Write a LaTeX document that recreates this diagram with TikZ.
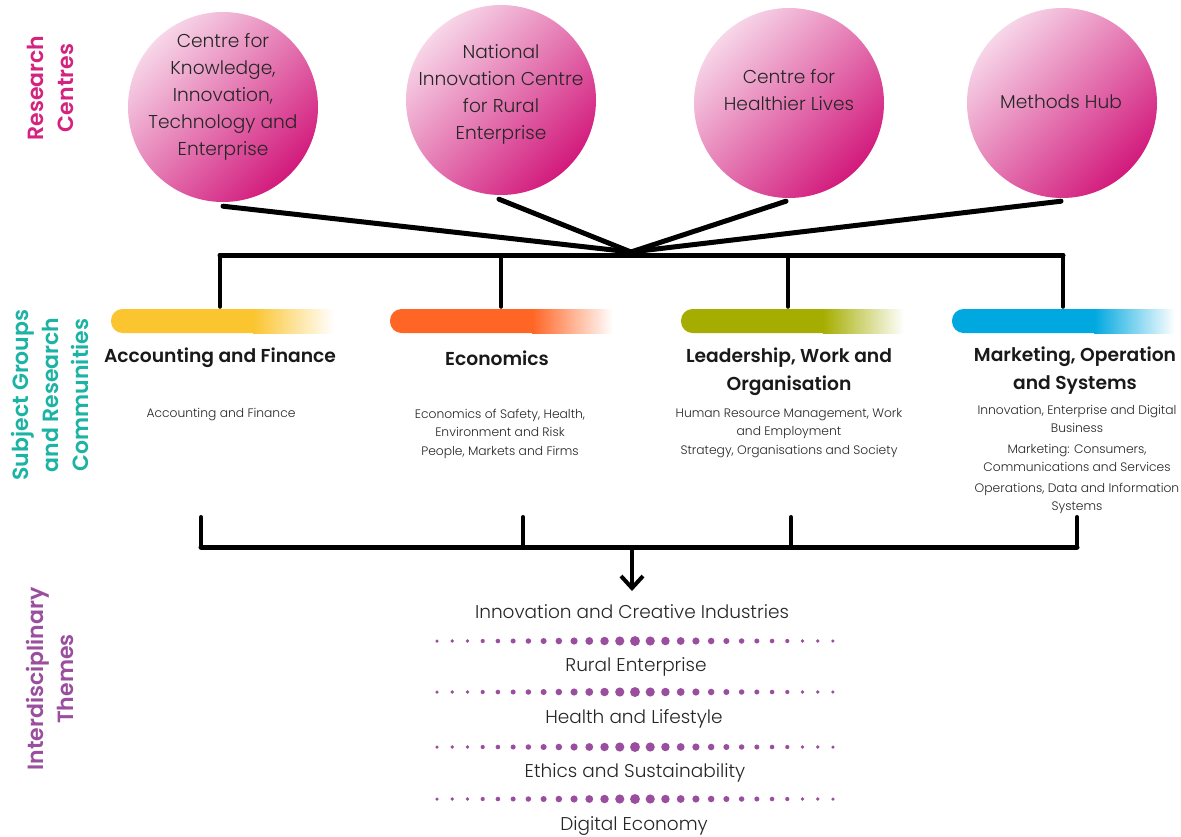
\documentclass[tikz,border=0pt]{standalone}
\usepackage{fontspec}
\setmainfont{Poppins}[UprightFont=* Light, BoldFont=* SemiBold]
\usetikzlibrary{arrows.meta}
\definecolor{rcmag}{HTML}{D4237E}
\definecolor{sgteal}{HTML}{1BB3A4}
\definecolor{itpurp}{HTML}{9A4E9E}
\definecolor{circlight}{HTML}{F7D6E8}
\definecolor{circdark}{HTML}{D21A7C}
\definecolor{barA}{HTML}{FBC530}
\definecolor{barB}{HTML}{FF6524}
\definecolor{barC}{HTML}{A5AE00}
\definecolor{barD}{HTML}{00A8E0}
\definecolor{txt}{HTML}{262626}
\tikzset{
  circ/.style={circle, minimum size=190pt, inner sep=0pt, top color=circlight, bottom color=circdark, shading angle=45},
  circtext/.style={align=center, text=txt, font=\fontsize{18.6}{27}\selectfont},
  sidelab/.style={rotate=90, align=center, font=\bfseries\fontsize{22}{30}\selectfont},
  grouptitle/.style={align=center, text=black!90, font=\bfseries\fontsize{18.7}{28}\selectfont},
  smalltext/.style={align=center, text=txt, font=\fontsize{12.3}{18}\selectfont},
  themetext/.style={align=center, text=txt, font=\fontsize{18.5}{24}\selectfont},
  heavy/.style={line width=5pt, line cap=round, black},
  stem/.style={line width=3.5pt, line cap=round, black},
}
\newcommand\gradbar[2]{%
  \fill[#2, rounded corners=11.5pt] (#1,309) rectangle ++(160,24);
  \shade[left color=#2, right color=white] (#1+142,309) rectangle ++(81,24);}
\newcommand\dotrow[1]{%
  \foreach \i in {0,...,26}{%
    \pgfmathsetmacro\rr{1.75+3.2*(1-abs(\i-13)/13)^1.5}%
    \fill[itpurp] (437+\i*15.23,#1) circle[radius=\rr pt];}}
\begin{document}
\begin{tikzpicture}[x=1pt,y=-1pt]
\useasboundingbox (0,0) rectangle (1181,836);
\fill[white] (0,0) rectangle (1181,836);

% side labels
\node[sidelab, text=rcmag] (lrc) at (50,88) {Research\\Centres};
\node[sidelab, text=sgteal] (lsg) at (50,395) {Subject Groups\\and Research\\Communities};
\node[sidelab, text=itpurp] (lit) at (50,679) {Interdisciplinary\\Themes};

% circles
\node[circ] (c1) at (223,107) {};
\node[circ] (c2) at (501,100) {};
\node[circ] (c3) at (789,103) {};
\node[circ] (c4) at (1062,103) {};
\node[circtext] (c1t) at (223,97) {Centre for\\Knowledge,\\Innovation,\\Technology and\\Enterprise};
\node[circtext] (c2t) at (501,94) {National\\Innovation Centre\\for Rural\\Enterprise};
\node[circtext] (c3t) at (789,90) {Centre for\\Healthier Lives};
\node[circtext] (c4t) at (1061,102) {Methods Hub};

% top connectors
\coordinate (j) at (631,252);
\draw[heavy] ([yshift=-4pt]c1.south) -- (j);
\draw[heavy] ([xshift=-2pt,yshift=-4pt]c2.south) -- (j);
\draw[heavy] ([xshift=-3pt,yshift=-3pt]c3.south) -- (j);
\draw[heavy] ([xshift=-1pt,yshift=-3pt]c4.south) -- (j);
\coordinate (h1) at (220,255);
\coordinate (h2) at (501,255);
\coordinate (h3) at (788,255);
\coordinate (h4) at (1063,255);
\coordinate (b1) at (220,307);
\coordinate (b2) at (501,307);
\coordinate (b3) at (788,307);
\coordinate (b4) at (1063,307);
\draw[heavy] (h1) -- (h4);
\draw[stem] (h1) -- (b1);
\draw[stem] (h2) -- (b2);
\draw[stem] (h3) -- (b3);
\draw[stem] (h4) -- (b4);

% colour bars
\gradbar{111}{barA}
\gradbar{390}{barB}
\gradbar{681}{barC}
\gradbar{952}{barD}

% group titles
\node[grouptitle] (t1) at (220,358) {Accounting and Finance};
\node[grouptitle] (t2) at (497,358) {Economics};
\node[grouptitle] (t3) at (789,372) {Leadership, Work and\\Organisation};
\node[grouptitle] (t4) at (1075,371) {Marketing, Operation\\and Systems};

% sub-groups
\node[smalltext] (s1) at (221,415) {Accounting and Finance};
\node[smalltext] (s2) at (500,433.5) {Economics of Safety, Health,\\Environment and Risk\\[1pt]People, Markets and Firms};
\node[smalltext] (s3) at (789,433.5) {Human Resource Management, Work\\and Employment\\[1pt]Strategy, Organisations and Society};
\node[smalltext] (s4) at (1077,459) {Innovation, Enterprise and Digital\\Business\\[3pt]Marketing: Consumers,\\Communications and Services\\[3pt]Operations, Data and Information\\Systems};

% lower bracket
\coordinate (l1) at (201,517);
\coordinate (l2) at (523,517);
\coordinate (l3) at (791,517);
\coordinate (l4) at (1077,517);
\coordinate (m1) at (201,547);
\coordinate (m2) at (523,547);
\coordinate (m3) at (791,547);
\coordinate (m4) at (1077,547);
\coordinate (aa) at (632,547);
\coordinate (ab) at (632,591);
\draw[stem, line width=4pt] (l1) -- (m1);
\draw[stem, line width=4pt] (l2) -- (m2);
\draw[stem, line width=4pt] (l3) -- (m3);
\draw[stem, line width=4pt] (l4) -- (m4);
\draw[heavy] (m1) -- (m4);
\draw[line width=4pt, -{Straight Barb[length=12pt,width=22pt]}] (aa) -- (ab);

% themes
\node[themetext] (th1) at (632,612) {Innovation and Creative Industries};
\node[themetext] (th2) at (636,667) {Rural Enterprise};
\node[themetext] (th3) at (634,719) {Health and Lifestyle};
\node[themetext] (th4) at (635,773) {Ethics and Sustainability};
\node[themetext] (th5) at (634,826) {Digital Economy};
\dotrow{641}
\dotrow{692}
\dotrow{747}
\dotrow{799}
\end{tikzpicture}
\end{document}
